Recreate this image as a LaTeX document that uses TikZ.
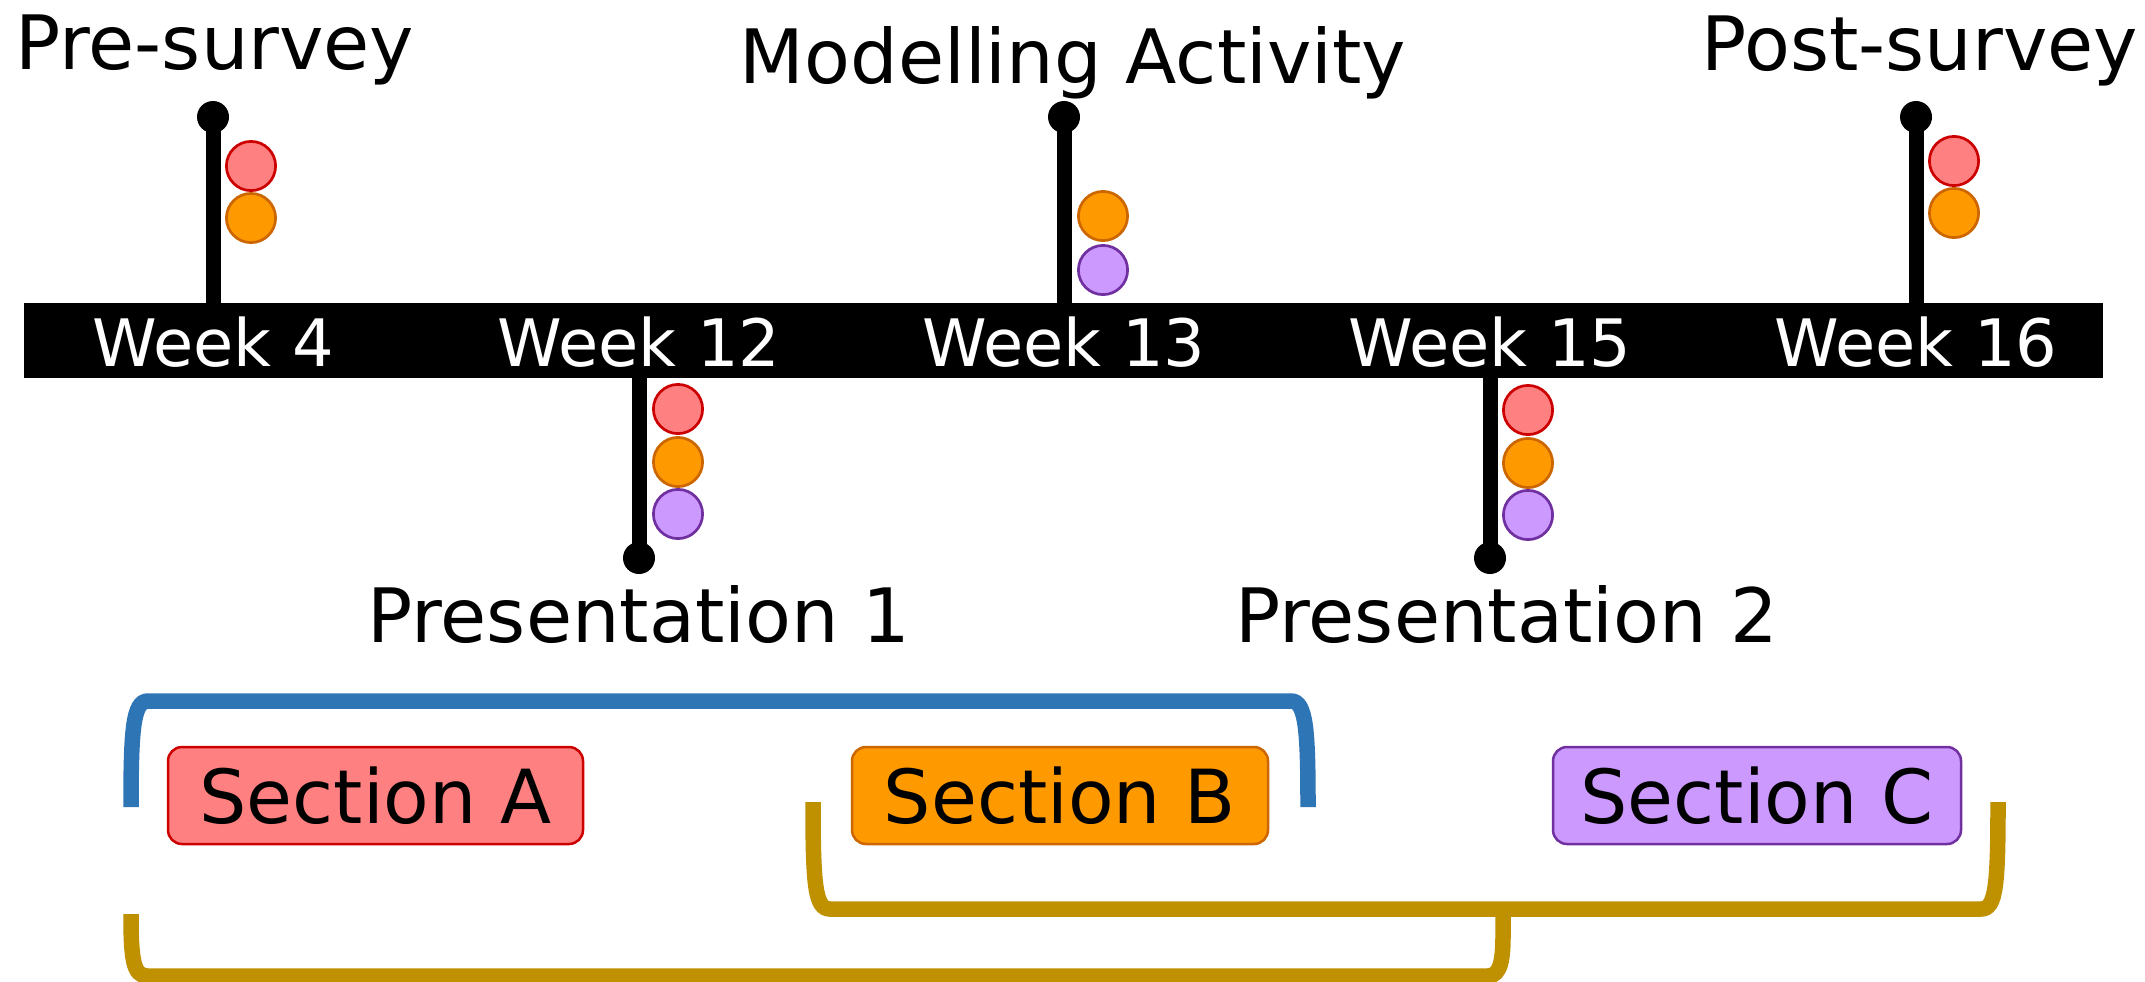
\documentclass[tikz,border=0pt]{standalone}
\usepackage{fontspec}
\setmainfont{DejaVu Sans}

\definecolor{redfill}{HTML}{FF8080}
\definecolor{redline}{HTML}{CC0000}
\definecolor{orangefill}{HTML}{FF9900}
\definecolor{orangeline}{HTML}{CC6600}
\definecolor{purplefill}{HTML}{CC99FF}
\definecolor{purpleline}{HTML}{7030A0}
\definecolor{bracketblue}{HTML}{2E75B6}
\definecolor{bracketgold}{HTML}{BF9000}

\tikzset{
  bigtext/.style={font=\fontsize{37.5}{44}\selectfont, anchor=base, inner sep=0pt},
  weektext/.style={font=\fontsize{32.7}{38}\selectfont, text=white, anchor=base, inner sep=0pt},
  pinhead/.style={circle, fill=black, minimum size=16pt, inner sep=0pt},
  stemline/.style={line width=7.5pt},
  marker/.style={circle, minimum size=24.6pt, inner sep=0pt, line width=1.35pt},
  markA/.style={marker, draw=redline, fill=redfill},
  markB/.style={marker, draw=orangeline, fill=orangefill},
  markC/.style={marker, draw=purpleline, fill=purplefill},
  secbox/.style={rounded corners=7pt, minimum height=48.5pt, line width=1.25pt,
                 inner sep=0pt, font=\fontsize{37.3}{44}\selectfont},
  bracket/.style={line width=7.75pt}
}

\begin{document}
\begin{tikzpicture}[x=0.5pt, y=-0.5pt]
  \useasboundingbox (0,0) rectangle (2145,981);

  % timeline bar
  \node[fill=black, minimum width=1039.5pt, minimum height=37.5pt, inner sep=0pt]
    (bar) at (1063.5,340.5) {};

  % week labels on the bar
  \node[weektext] (w4)  at (213,366)  {Week 4};
  \node[weektext] (w12) at (639,366)  {Week 12};
  \node[weektext] (w13) at (1064,366) {Week 13};
  \node[weektext] (w15) at (1490,366) {Week 15};
  \node[weektext] (w16) at (1916,366) {Week 16};

  % pins above the bar
  \node[pinhead] (p4)  at (213,117)  {};
  \node[pinhead] (p13) at (1064,117) {};
  \node[pinhead] (p16) at (1916,117) {};
  % pins below the bar
  \node[pinhead] (p12) at (639,558)  {};
  \node[pinhead] (p15) at (1490,558) {};

  \draw[stemline] (p4.center)  -- (p4.center  |- bar.north);
  \draw[stemline] (p13.center) -- (p13.center |- bar.north);
  \draw[stemline] (p16.center) -- (p16.center |- bar.north);
  \draw[stemline] (p12.center) -- (p12.center |- bar.south);
  \draw[stemline] (p15.center) -- (p15.center |- bar.south);

  % event titles
  \node[bigtext] (pre)  at (215,69)   {Pre-survey};
  \node[bigtext] (mod)  at (1073,83)  {Modelling Activity};
  \node[bigtext] (post) at (1920,70)  {Post-survey};
  \node[bigtext] (pr1)  at (639,642)  {Presentation 1};
  \node[bigtext] (pr2)  at (1507,642) {Presentation 2};

  % section markers
  \node[markA] (m4a)  at (251,166)  {};
  \node[markB] (m4b)  at (251,218)  {};

  \node[markA] (m12a) at (678,409)  {};
  \node[markB] (m12b) at (678,462)  {};
  \node[markC] (m12c) at (678,514)  {};

  \node[markB] (m13b) at (1103,216) {};
  \node[markC] (m13c) at (1103,270) {};

  \node[markA] (m15a) at (1528,410) {};
  \node[markB] (m15b) at (1528,463) {};
  \node[markC] (m15c) at (1528,515) {};

  \node[markA] (m16a) at (1954,161) {};
  \node[markB] (m16b) at (1954,213) {};

  % section boxes
  \node[secbox, draw=redline, fill=redfill, minimum width=207.5pt]
    (secA) at (375.5,795.5) {Section A};
  \node[secbox, draw=orangeline, fill=orangefill, minimum width=208pt]
    (secB) at (1060,795.5) {Section B};
  \node[secbox, draw=purpleline, fill=purplefill, minimum width=204pt]
    (secC) at (1757,795.5) {Section C};

  % brackets grouping the sections
  \draw[bracket, bracketblue]
    (131,807) .. controls (131,730) and (133,701) .. (148,701)
    -- (1291,701) .. controls (1306,701) and (1308,730) .. (1308,807);
  \draw[bracket, bracketgold]
    (813,802) .. controls (813,885) and (815,909) .. (830,909)
    -- (1981,909) .. controls (1996,909) and (1998,885) .. (1998,802);
  \draw[bracket, bracketgold]
    (131,914) .. controls (131,958) and (133,976) .. (147,976)
    -- (1488,976) .. controls (1501,976) and (1503,958) .. (1503,935)
    -- (1503,909);
\end{tikzpicture}
\end{document}
